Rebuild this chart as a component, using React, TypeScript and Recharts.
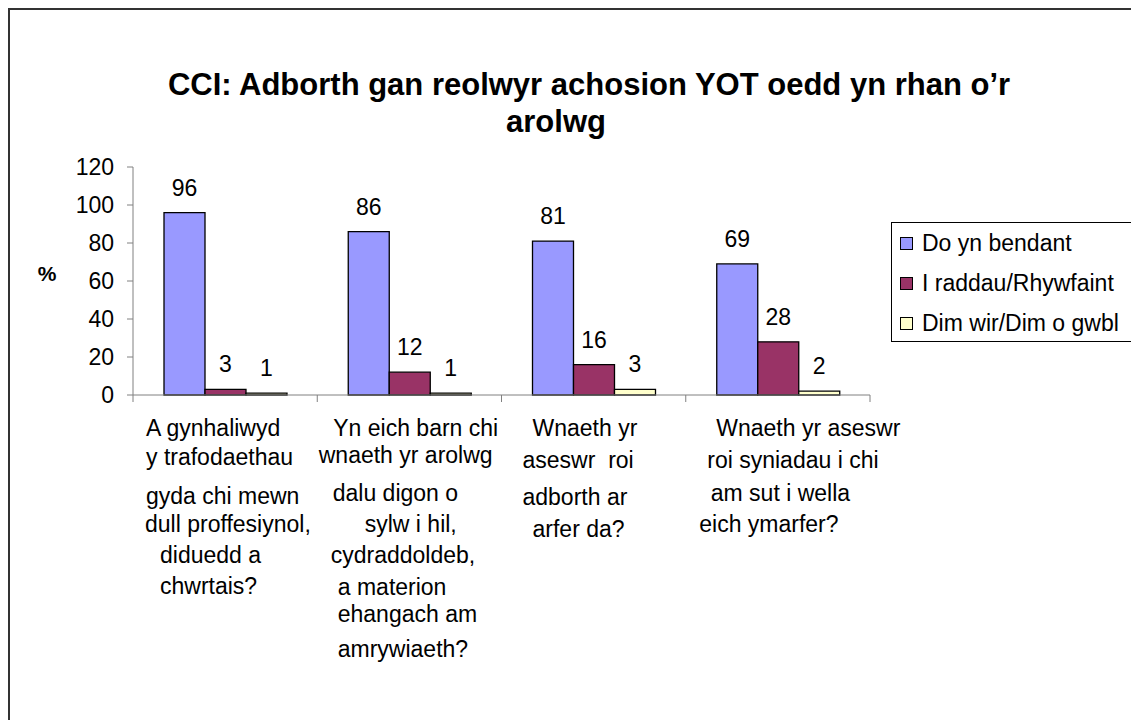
import { Bar, BarChart, LabelList, Legend, XAxis, YAxis } from "recharts";

const categories = [
  "A gynhaliwyd y trafodaethau gyda chi mewn dull proffesiynol, diduedd a chwrtais?",
  "Yn eich barn chi wnaeth yr arolwg dalu digon o sylw i hil, cydraddoldeb, a materion ehangach am amrywiaeth?",
  "Wnaeth yr aseswr  roi adborth ar arfer da?",
  "Wnaeth yr aseswr roi syniadau i chi am sut i wella eich ymarfer?",
];

const categoryLines = [
  ["A gynhaliwyd", "y trafodaethau", "gyda chi mewn", "dull proffesiynol,", "diduedd a", "chwrtais?"],
  ["Yn eich barn chi", "wnaeth yr arolwg", "dalu digon o", "sylw i hil,", "cydraddoldeb,", "a materion", "ehangach am", "amrywiaeth?"],
  ["Wnaeth yr", "aseswr  roi", "adborth ar", "arfer da?"],
  ["Wnaeth yr aseswr", "roi syniadau i chi", "am sut i wella", "eich ymarfer?"],
];

const doYnBendant = [96, 86, 81, 69];
const iRaddau = [3, 12, 16, 28];
const dimWir = [1, 1, 3, 2];

const seriesNames = ["Do yn bendant", "I raddau/Rhywfaint", "Dim wir/Dim o gwbl"];
const yTicks = [0, 20, 40, 60, 80, 100, 120];

const data = categories.map((category, i) => ({
  category,
  doYnBendant: doYnBendant[i],
  iRaddau: iRaddau[i],
  dimWir: dimWir[i],
}));

// layout
const FONT = "Arial, 'Liberation Sans', sans-serif";
const AXIS = "#808080";
const COLORS = ["#9999FF", "#993366", "#FFFFCC"];
const CHART_W = 1130;
const CHART_H = 705;
const Y_AXIS_W = 60;
const MARGIN = { top: 157, right: 270, bottom: 40, left: 63 };
const PLOT_W = CHART_W - MARGIN.left - Y_AXIS_W - MARGIN.right;
const BAND = PLOT_W / categories.length;

// offsets of each label line from the category's left edge / axis line
const LINE_DX = [
  [13, 13, 13, 12, 27, 27],
  [16, 1.5, 15.5, 47.5, 13.5, 20.5, 20.5, 20.5],
  [31, 21, 21, 31],
  [30.5, 21.5, 25, 13.5],
];
const LINE_DY = [
  [41, 70, 109, 137, 168, 199],
  [41, 68, 106, 137, 168, 200, 227, 262],
  [41, 73, 110, 142],
  [41, 73, 106, 137],
];

function CategoryTick(props: any) {
  const { x, y, index } = props;
  const left = x - BAND / 2;
  const last = index === categories.length - 1;
  return (
    <g>
      <line x1={left} x2={left} y1={y} y2={y + 7} stroke={AXIS} />
      {last && <line x1={left + BAND} x2={left + BAND} y1={y} y2={y + 7} stroke={AXIS} />}
      <text fontSize={23} fill="#000" style={{ whiteSpace: "pre" }}>
        {categoryLines[index].map((t, i) => (
          <tspan key={i} x={left + LINE_DX[index][i]} y={y + LINE_DY[index][i]}>
            {t}
          </tspan>
        ))}
      </text>
    </g>
  );
}

function LegendBox() {
  return (
    <div
      style={{
        boxSizing: "border-box",
        width: 242,
        height: 120,
        border: "1px solid #000",
        background: "#fff",
        fontFamily: FONT,
        fontSize: 23,
      }}
    >
      {seriesNames.map((name, i) => (
        <div key={name} style={{ height: 40, display: "flex", alignItems: "center", whiteSpace: "nowrap" }}>
          <span
            style={{
              boxSizing: "border-box",
              width: 13,
              height: 13,
              marginLeft: 8,
              marginRight: 9,
              background: COLORS[i],
              border: "1px solid #000",
            }}
          />
          <span>{name}</span>
        </div>
      ))}
    </div>
  );
}

export default function App() {
  return (
    <div
      style={{
        position: "relative",
        width: 1139,
        height: 720,
        border: "2px solid #333",
        background: "#fff",
        fontFamily: FONT,
      }}
    >
      <div
        style={{
          position: "absolute",
          left: 579,
          top: 59,
          transform: "translateX(-50%)",
          whiteSpace: "nowrap",
          fontSize: 31,
          lineHeight: "31px",
          fontWeight: "bold",
        }}
      >
        CCI: Adborth gan reolwyr achosion YOT oedd yn rhan o’r
      </div>
      <div
        style={{
          position: "absolute",
          left: 546,
          top: 96,
          transform: "translateX(-50%)",
          whiteSpace: "nowrap",
          fontSize: 31,
          lineHeight: "31px",
          fontWeight: "bold",
        }}
      >
        arolwg
      </div>
      <div style={{ position: "absolute", left: 0, top: 0 }}>
        <BarChart
          width={CHART_W}
          height={CHART_H}
          data={data}
          margin={MARGIN}
          barSize={41}
          barGap={0}
          style={{ fontFamily: FONT }}
        >
          <XAxis
            dataKey="category"
            height={280}
            interval={0}
            tickSize={0}
            tickMargin={0}
            tickLine={false}
            axisLine={{ stroke: AXIS }}
            tick={<CategoryTick />}
          />
          <YAxis
            width={Y_AXIS_W}
            domain={[0, 120]}
            ticks={yTicks}
            interval={0}
            tickSize={6}
            tickMargin={13}
            axisLine={{ stroke: AXIS }}
            tickLine={{ stroke: AXIS }}
            tick={{ fontSize: 23, fill: "#000" }}
            label={{
              content: () => (
                <text x={37} y={263} fontSize={21} fontWeight="bold" fill="#000" textAnchor="middle" dominantBaseline="central">
                  %
                </text>
              ),
            }}
          />
          <Legend
            layout="vertical"
            align="center"
            verticalAlign="middle"
            wrapperStyle={{ left: 881, top: 212, width: 242 }}
            content={<LegendBox />}
          />
          <Bar dataKey="doYnBendant" name={seriesNames[0]} fill={COLORS[0]} stroke="#000" strokeWidth={1.3} isAnimationActive={false}>
            <LabelList dataKey="doYnBendant" position="top" offset={17} fontSize={23} fill="#000" />
          </Bar>
          <Bar dataKey="iRaddau" name={seriesNames[1]} fill={COLORS[1]} stroke="#000" strokeWidth={1.3} isAnimationActive={false}>
            <LabelList dataKey="iRaddau" position="top" offset={17} fontSize={23} fill="#000" />
          </Bar>
          <Bar dataKey="dimWir" name={seriesNames[2]} fill={COLORS[2]} stroke="#000" strokeWidth={1.3} isAnimationActive={false}>
            <LabelList dataKey="dimWir" position="top" offset={17} fontSize={23} fill="#000" />
          </Bar>
        </BarChart>
      </div>
    </div>
  );
}
